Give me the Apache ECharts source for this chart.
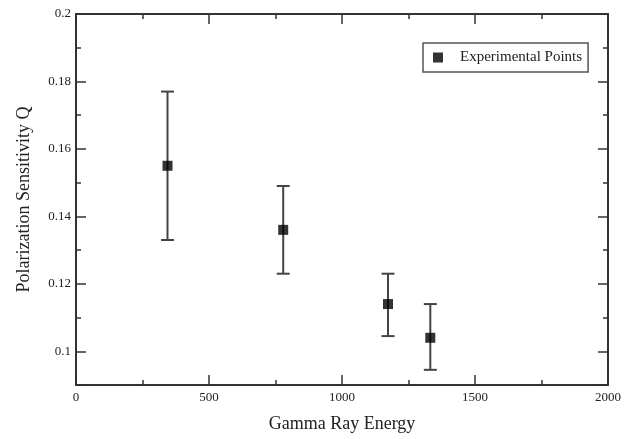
<!DOCTYPE html>
<html>
<head>
<meta charset="utf-8">
<script src="https://cdn.jsdelivr.net/npm/echarts@6/dist/echarts.min.js"></script>
<style>
html,body{margin:0;padding:0;background:#fff;}
#chart{width:628px;height:439px;}
</style>
</head>
<body>
<div id="chart"></div>
<script>
// Data
const energies = [344, 779, 1173, 1332];
const qValues = [0.155, 0.136, 0.114, 0.104];
const qLow = [0.133, 0.123, 0.1045, 0.0945];
const qHigh = [0.177, 0.149, 0.123, 0.114];
const seriesName = 'Experimental Points';
const xTitle = 'Gamma Ray Energy';
const yTitle = 'Polarization Sensitivity Q';

const font = '"Liberation Serif", "DejaVu Serif", serif';
const axisColor = '#333';

const points = energies.map((e, i) => [e, qValues[i]]);
const bars = energies.map((e, i) => [e, qLow[i], qHigh[i]]);

const commonTick = { show: true, inside: true, length: 10, lineStyle: { color: axisColor, width: 1.5 } };
const commonMinor = { show: true, splitNumber: 2, length: 5, lineStyle: { color: axisColor, width: 1.5 } };
const axisLine = { show: true, onZero: false, lineStyle: { color: axisColor, width: 2 } };

const chart = echarts.init(document.getElementById('chart'), null, { renderer: 'canvas' });
chart.setOption({
  animation: false,
  backgroundColor: '#fff',
  grid: { left: 76, right: 20, top: 14, bottom: 54, containLabel: false },
  legend: {
    show: true,
    left: 423, top: 43,
    padding: [7, 6, 7, 10],
    borderColor: '#555', borderWidth: 1.5,
    itemWidth: 10, itemHeight: 10,
    icon: 'rect',
    data: [seriesName],
    textStyle: { fontFamily: font, fontSize: 15, color: '#222', padding: [0, 0, 0, 12] }
  },
  xAxis: [{
    type: 'value', min: 0, max: 2000, interval: 500,
    name: xTitle, nameLocation: 'middle', nameGap: 30,
    nameTextStyle: { fontFamily: font, fontSize: 18, color: '#222' },
    axisLine: axisLine, axisTick: commonTick, minorTick: commonMinor,
    splitLine: { show: false },
    axisLabel: { fontFamily: font, fontSize: 13, color: '#222', margin: 6, formatter: v => String(v) }
  }, {
    type: 'value', position: 'top', min: 0, max: 2000, interval: 500,
    axisLine: axisLine, axisTick: commonTick, minorTick: commonMinor,
    splitLine: { show: false }, axisLabel: { show: false }
  }],
  yAxis: [{
    type: 'value', min: 0.09, max: 0.2, minInterval: 0.02, maxInterval: 0.02,
    name: yTitle, nameLocation: 'middle', nameGap: 43, nameRotate: 90,
    nameTextStyle: { fontFamily: font, fontSize: 18, color: '#222' },
    axisLine: axisLine, axisTick: commonTick, minorTick: commonMinor,
    splitLine: { show: false },
    axisLabel: { fontFamily: font, fontSize: 13, color: '#222', margin: 5, showMinLabel: false,
      formatter: v => (Math.abs(v - 0.09) < 1e-9 ? '' : String(Math.round(v * 100) / 100)) }
  }, {
    type: 'value', position: 'right', min: 0.09, max: 0.2, minInterval: 0.02, maxInterval: 0.02,
    axisLine: axisLine, axisTick: commonTick, minorTick: commonMinor,
    splitLine: { show: false }, axisLabel: { show: false }
  }],
  series: [{
    name: 'errorbars',
    type: 'custom',
    xAxisIndex: 0, yAxisIndex: 0,
    data: bars,
    z: 2,
    renderItem: function (params, api) {
      const x = api.value(0);
      const lo = api.coord([x, api.value(1)]);
      const hi = api.coord([x, api.value(2)]);
      const cap = 6.5;
      const style = { stroke: '#444', lineWidth: 2 };
      return {
        type: 'group',
        children: [
          { type: 'line', shape: { x1: lo[0], y1: lo[1], x2: hi[0], y2: hi[1] }, style: style },
          { type: 'line', shape: { x1: lo[0] - cap, y1: lo[1], x2: lo[0] + cap, y2: lo[1] }, style: style },
          { type: 'line', shape: { x1: hi[0] - cap, y1: hi[1], x2: hi[0] + cap, y2: hi[1] }, style: style }
        ]
      };
    }
  }, {
    name: seriesName,
    type: 'scatter',
    xAxisIndex: 0, yAxisIndex: 0,
    symbol: 'rect', symbolSize: 10,
    itemStyle: { color: '#000' },
    z: 3,
    data: points
  }]
});
</script>
</body>
</html>
